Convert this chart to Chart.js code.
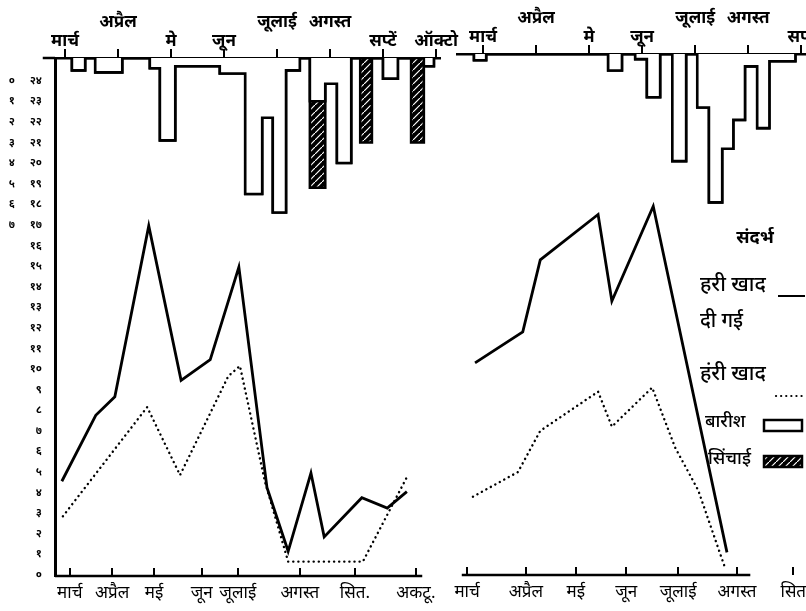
<!DOCTYPE html>
<html>
<head>
<meta charset="utf-8">
<script src="https://cdn.jsdelivr.net/npm/chart.js@4.4.1/dist/chart.umd.min.js"></script>
<style>
  html, body { margin: 0; padding: 0; background: #fff; }
  #wrap { position: relative; width: 806px; height: 611px; overflow: hidden; }
  canvas { position: absolute; top: 0; }
  #left { left: 0; }
  #right { left: 440px; }
</style>
</head>
<body>
<div id="wrap">
  <canvas id="left" width="470" height="611"></canvas>
  <canvas id="right" width="366" height="611"></canvas>
</div>
<script>
// x axis: months counted from 1 March, y axis: the numbered scale on the left

// left panel
const leftTopMonths = ['मार्च', 'अप्रैल', 'मे', 'जून', 'जूलाई', 'अगस्त', 'सप्टें', 'ऑक्टो'];
const leftBottomMonths = ['मार्च', 'अप्रैल', 'मई', 'जून', 'जूलाई', 'अगस्त', 'सित.', 'अकटू.'];
const leftBottomPos = [0.09, 0.89, 1.68, 2.58, 3.26, 4.43, 5.47, 6.62];

const leftManuredX = [-0.06, 0.58, 0.94, 1.58, 2.19, 2.74, 3.28, 3.81, 4.21, 4.64, 4.89, 5.60, 6.08, 6.45];
const leftManuredY = [4.6, 7.8, 8.7, 17.0, 9.5, 10.5, 15.0, 4.3, 1.2, 5.0, 1.9, 3.8, 3.3, 4.1];
const leftPlainX = [-0.04, 1.55, 2.17, 3.08, 3.30, 3.77, 4.21, 5.62, 6.45];
const leftPlainY = [2.9, 8.2, 4.9, 9.7, 10.2, 4.6, 0.7, 0.7, 4.8];

const leftBarFrom = [0.13, 0.57, 1.60, 1.79, 2.08, 2.92, 3.40, 3.72, 3.92, 4.17, 4.62, 4.91, 5.13, 5.57, 6.00, 6.53, 6.77];
const leftBarTo   = [0.38, 1.08, 1.79, 2.08, 2.92, 3.40, 3.72, 3.92, 4.17, 4.43, 4.91, 5.13, 5.40, 5.79, 6.28, 6.77, 6.96];
const leftRain    = [0.6, 0.7, 0.5, 4.0, 0.4, 0.75, 6.6, 2.9, 7.5, 0.6, 2.1, 1.25, 5.1, 0, 1.0, 0, 0.4];
const leftIrrig   = [0, 0, 0, 0, 0, 0, 0, 0, 0, 0, 4.2, 0, 0, 4.1, 0, 4.1, 0];

// right panel
const rightTopMonths = ['मार्च', 'अप्रैल', 'मे', 'जून', 'जूलाई', 'अगस्त', 'सप्टें'];
const rightBottomMonths = ['मार्च', 'अप्रैल', 'मई', 'जून', 'जूलाई', 'अगस्त', 'सित'];
const rightBottomPos = [-0.30, 0.81, 1.75, 2.70, 3.68, 4.79, 5.85];

const rightManuredX = [-0.15, 0.75, 1.08, 2.17, 2.43, 3.21, 4.60];
const rightManuredY = [10.3, 11.8, 15.3, 17.5, 13.3, 17.9, 1.1];
const rightPlainX = [-0.19, 0.66, 1.08, 2.17, 2.43, 3.19, 3.62, 4.06, 4.57];
const rightPlainY = [3.8, 5.0, 7.0, 8.9, 7.2, 9.1, 6.2, 4.1, 0.3];

const rightBarFrom = [-0.17, 2.36, 2.87, 3.09, 3.57, 4.04, 4.26, 4.51, 4.72, 4.94, 5.17, 5.40];
const rightBarTo   = [0.06, 2.62, 3.09, 3.34, 3.83, 4.26, 4.51, 4.72, 4.94, 5.17, 5.40, 5.89];
const rightRain    = [0.3, 0.8, 0.25, 2.1, 5.2, 2.6, 7.2, 4.6, 3.2, 0.6, 3.6, 0.35];
const rightIrrig   = [0, 0, 0, 0, 0, 0, 0, 0, 0, 0, 0, 0];

const yTicks = [0, 1, 2, 3, 4, 5, 6, 7, 8, 9, 10, 11, 12, 13, 14, 15, 16, 17, 18, 19, 20, 21, 22, 23, 24];

const legendTitle = 'संदर्भ';
const legendNames = ['हरी खाद', 'दी गई', 'हंरी खाद', 'बारीश', 'सिंचाई'];

const FONT = "'Noto Sans Devanagari', 'Lohit Devanagari', 'FreeSans', 'Noto Sans', sans-serif";
const raisedTop = ['अप्रैल', 'जूलाई', 'अगस्त'];

function toDev(n) {
  return String(n).replace(/\d/g, d => '०१२३४५६७८९'[d]);
}

function points(xs, ys) {
  return xs.map((x, i) => ({ x: x, y: ys[i] }));
}

// outline of the hanging bars, one polyline; neighbours share their edge
function profile(from, to, depth) {
  const pts = [];
  for (let i = 0; i < from.length; i++) {
    if (i === 0 || from[i] !== to[i - 1]) pts.push({ x: from[i], y: 0 });
    pts.push({ x: from[i], y: depth[i] }, { x: to[i], y: depth[i] });
    if (i === from.length - 1 || from[i + 1] !== to[i]) pts.push({ x: to[i], y: 0 });
  }
  return pts;
}

function hatch() {
  const c = document.createElement('canvas');
  c.width = 7; c.height = 7;
  const g = c.getContext('2d');
  g.fillStyle = '#000';
  g.fillRect(0, 0, 7, 7);
  g.strokeStyle = '#fff';
  g.lineWidth = 1.2;
  g.beginPath();
  g.moveTo(0, 7); g.lineTo(7, 0);
  g.stroke();
  return g.createPattern(c, 'repeat');
}
const hatchFill = hatch();

function noPad(s) {
  s.paddingLeft = 0; s.paddingRight = 0; s.paddingTop = 0; s.paddingBottom = 0;
}

// bottom axis: a line that stops short, ticks pointing up; top line runs a bit past the y axis
const baseline = {
  id: 'baseline',
  afterDatasetsDraw(chart, args, opts) {
    const { ctx, chartArea, scales } = chart;
    const x = scales.x;
    ctx.save();
    ctx.strokeStyle = '#000';
    ctx.lineWidth = 2.5;
    ctx.beginPath();
    ctx.moveTo(opts.from == null ? chartArea.left : x.getPixelForValue(opts.from), chartArea.bottom);
    ctx.lineTo(x.getPixelForValue(opts.to), chartArea.bottom);
    if (opts.topFrom != null) {
      ctx.moveTo(x.getPixelForValue(opts.topFrom), chartArea.top);
      ctx.lineTo(chartArea.left, chartArea.top);
    }
    ctx.stroke();
    ctx.lineWidth = 2;
    x.ticks.forEach(t => {
      const px = Math.round(x.getPixelForValue(t.value));
      ctx.beginPath();
      ctx.moveTo(px, chartArea.bottom);
      ctx.lineTo(px, chartArea.bottom - 8);
      ctx.stroke();
    });
    ctx.restore();
  }
};

// the key drawn inside the right panel
const keyBox = {
  id: 'keyBox',
  afterDraw(chart) {
    const ctx = chart.ctx;
    ctx.save();
    ctx.fillStyle = '#000';
    ctx.strokeStyle = '#000';
    ctx.textBaseline = 'middle';
    ctx.textAlign = 'center';
    ctx.font = 'bold 18px ' + FONT;
    ctx.fillText(legendTitle, 315, 240);
    ctx.textAlign = 'left';
    ctx.font = '500 21px ' + FONT;
    ctx.fillText(legendNames[0], 260, 287);
    ctx.fillText(legendNames[2], 260, 376);
    ctx.font = '500 20px ' + FONT;
    ctx.fillText(legendNames[1], 260, 323);
    ctx.font = '500 18px ' + FONT;
    ctx.fillText(legendNames[3], 265, 424);
    ctx.fillText(legendNames[4], 268, 461);
    ctx.lineWidth = 2;
    ctx.beginPath(); ctx.moveTo(338, 296); ctx.lineTo(365, 296); ctx.stroke();
    ctx.setLineDash([0.1, 5]);
    ctx.lineCap = 'round';
    ctx.lineWidth = 2.2;
    ctx.beginPath(); ctx.moveTo(336, 396); ctx.lineTo(366, 396); ctx.stroke();
    ctx.setLineDash([]);
    ctx.lineCap = 'butt';
    ctx.lineWidth = 2.5;
    ctx.strokeRect(324, 420, 38, 11);
    ctx.fillStyle = hatchFill;
    ctx.fillRect(324, 456, 38, 11);
    ctx.strokeRect(324, 456, 38, 11);
    ctx.restore();
  }
};

function panel(canvasId, cfg) {
  const datasets = [
    {
      label: 'हरी खाद दी गई',
      data: points(cfg.manuredX, cfg.manuredY),
      borderColor: '#000', borderWidth: 2.8, pointRadius: 0,
      borderJoinStyle: 'miter', tension: 0, yAxisID: 'y'
    },
    {
      label: 'हरी खाद नहीं दी गई',
      data: points(cfg.plainX, cfg.plainY),
      borderColor: '#000', borderWidth: 2.4, pointRadius: 0,
      borderDash: [0.1, 5], borderCapStyle: 'round', tension: 0, yAxisID: 'y'
    },
    {
      label: 'बारीश',
      data: profile(cfg.barFrom, cfg.barTo, cfg.rain),
      borderColor: '#000', borderWidth: 2.6, pointRadius: 0,
      backgroundColor: '#fff', fill: 'origin', tension: 0, yAxisID: 'yRain'
    },
    {
      label: 'सिंचाई',
      data: profile(cfg.barFrom, cfg.barTo, cfg.rain.map((r, i) => r + cfg.irrig[i])),
      borderColor: '#000', borderWidth: 2.6, pointRadius: 0,
      backgroundColor: hatchFill, fill: 'origin', tension: 0, yAxisID: 'yRain'
    }
  ];

  const scales = {
    x: {
      type: 'linear', position: 'bottom', min: cfg.xMin, max: cfg.xMax,
      grid: { display: false, drawTicks: false }, border: { display: false },
      afterBuildTicks: s => { s.ticks = cfg.bottomPos.map(v => ({ value: v })); },
      afterFit: s => { s.height = cfg.bottomH; noPad(s); },
      ticks: {
        autoSkip: false, maxRotation: 0, padding: 9, color: '#000',
        font: { family: FONT, size: 17 },
        callback: (v, i) => cfg.bottomLabels[i]
      }
    },
    x2: {
      type: 'linear', position: 'top', min: cfg.xMin, max: cfg.xMax,
      grid: { display: true, drawOnChartArea: false, drawTicks: true, tickLength: 9, color: '#000', lineWidth: 2 },
      border: { display: true, color: '#000', width: 2.5 },
      afterBuildTicks: s => { s.ticks = cfg.topLabels.map((m, i) => ({ value: i })); },
      afterFit: s => { s.height = cfg.topH; noPad(s); },
      ticks: {
        autoSkip: false, maxRotation: 0, padding: -3, color: '#000',
        font: { family: FONT, size: 17, weight: 'bold', lineHeight: 1.1 },
        callback: (v, i) => raisedTop.includes(cfg.topLabels[i]) ? [cfg.topLabels[i], ''] : cfg.topLabels[i]
      }
    },
    y: {
      type: 'linear', position: 'left', min: 0, max: cfg.yMax, display: cfg.showY,
      grid: { display: false, drawTicks: false },
      border: { display: true, color: '#000', width: 3 },
      afterBuildTicks: s => { s.ticks = yTicks.map(v => ({ value: v })); },
      afterFit: s => { if (cfg.showY) s.width = 35; noPad(s); },
      ticks: { padding: 13, color: '#000', font: { family: FONT, size: 11, weight: 'bold' }, callback: v => toDev(v) }
    },
    yRainLbl: {
      type: 'linear', position: 'left', weight: 1, min: 0, max: cfg.yMax, display: cfg.showY,
      grid: { display: false, drawTicks: false }, border: { display: false },
      afterBuildTicks: s => { s.ticks = yTicks.map(v => ({ value: v })); },
      afterFit: s => { if (cfg.showY) s.width = 20; noPad(s); },
      ticks: { padding: 5, color: '#000', font: { family: FONT, size: 11, weight: 'bold' }, callback: v => (v >= 17 ? toDev(24 - v) : '') }
    },
    yRain: {
      type: 'linear', display: false, reverse: true, min: 0, max: cfg.yMax
    }
  };

  return new Chart(document.getElementById(canvasId), {
    type: 'line',
    data: { datasets: datasets },
    options: {
      responsive: false,
      animation: false,
      devicePixelRatio: 1,
      layout: { padding: cfg.padding },
      scales: scales,
      plugins: {
        legend: { display: false },
        tooltip: { enabled: false },
        baseline: { from: cfg.baseFrom, to: cfg.baseTo, topFrom: cfg.topFrom }
      }
    },
    plugins: cfg.extra ? [baseline, cfg.extra] : [baseline]
  });
}

panel('left', {
  manuredX: leftManuredX, manuredY: leftManuredY, plainX: leftPlainX, plainY: leftPlainY,
  barFrom: leftBarFrom, barTo: leftBarTo, rain: leftRain, irrig: leftIrrig,
  topLabels: leftTopMonths, bottomLabels: leftBottomMonths, bottomPos: leftBottomPos,
  xMin: -0.189, xMax: 7.075, yMax: 25.15, topH: 58, bottomH: 35, showY: true,
  padding: { left: 0, right: 30, top: 0, bottom: 0 },
  baseFrom: null, baseTo: 6.74, topFrom: -0.42
});

panel('right', {
  manuredX: rightManuredX, manuredY: rightManuredY, plainX: rightPlainX, plainY: rightPlainY,
  barFrom: rightBarFrom, barTo: rightBarTo, rain: rightRain, irrig: rightIrrig,
  topLabels: rightTopMonths, bottomLabels: rightBottomMonths, bottomPos: rightBottomPos,
  xMin: -0.49, xMax: 6.09, yMax: 25.29, topH: 54, bottomH: 36, showY: false,
  padding: { left: 17, right: 0, top: 0, bottom: 0 },
  baseFrom: -0.40, baseTo: 5.04, topFrom: null,
  extra: keyBox
});
</script>
</body>
</html>
